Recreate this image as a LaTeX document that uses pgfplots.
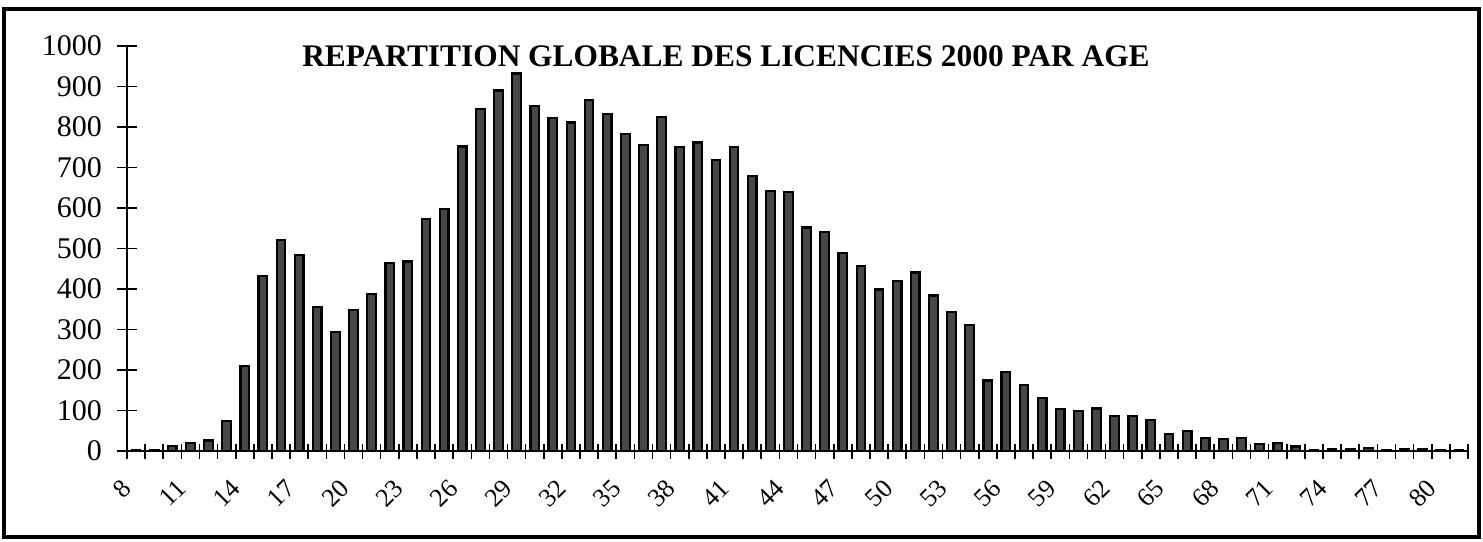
\documentclass[border=0pt]{standalone}
\usepackage{fontspec}
\setmainfont{Liberation Serif}
\usepackage{pgfplots}
\pgfplotsset{compat=1.18}
\usepackage{pgfplotstable}

% licencies 2000 by age
\pgfplotstableread{
age n
8 3
9 3
10 12
11 20
12 26
13 75
14 210
15 432
16 521
17 484
18 355
19 294
20 349
21 387
22 464
23 468
24 572
25 598
26 752
27 845
28 890
29 932
30 852
31 823
32 811
33 866
34 833
35 782
36 756
37 824
38 751
39 762
40 718
41 751
42 679
43 642
44 640
45 552
46 541
47 489
48 456
49 399
50 419
51 441
52 384
53 344
54 311
55 174
56 195
57 163
58 130
59 103
60 98
61 105
62 86
63 87
64 76
65 43
66 50
67 33
68 29
69 32
70 18
71 19
72 11
73 2
74 5
75 5
76 8
77 3
78 4
79 4
80 2
81 2
}\licencies

\begin{document}
\begin{tikzpicture}
\begin{axis}[
  scale only axis,
  width=670.5pt, height=202.5pt,
  xmin=7.5, xmax=81.5,
  ymin=0, ymax=1000,
  axis x line=bottom, axis y line=left,
  axis line style={-, line width=0.8pt},
  ytick={0,100,...,1000},
  xtick={8,11,...,80},
  minor xtick={7.5,8.5,...,81.5},
  every major x tick/.style={draw=none},
  tick align=center,
  major tick length=10pt,
  minor tick length=7.5pt,
  every tick/.style={black, line width=0.8pt},
  /pgf/number format/assume math mode=true,
  /pgf/number format/1000 sep={},
  yticklabel style={font=\fontsize{15}{15}\selectfont, anchor=east, xshift=-4pt},
  xticklabel style={font=\fontsize{13}{13}\selectfont, inner sep=0.5pt, xshift=-4pt, yshift=-11pt, rotate=45, anchor=east},
  clip=false,
]
\addplot[ybar, bar width=4.3pt, fill=black!72, draw=black, line width=1.1pt]
  table[x=age, y=n] {\licencies};

\node[font=\bfseries\fontsize{15.7}{15.7}\selectfont, anchor=base]
  at (axis description cs:0.4467,0.949) {REPARTITION GLOBALE DES LICENCIES 2000 PAR AGE};

\draw[line width=2pt] (axis description cs:-0.0917,-0.2123) rectangle (axis description cs:1.0082,1.0914);
\path (axis description cs:-0.0947,-0.2222) rectangle (axis description cs:1.0112,1.1136);
\end{axis}
\end{tikzpicture}
\end{document}
